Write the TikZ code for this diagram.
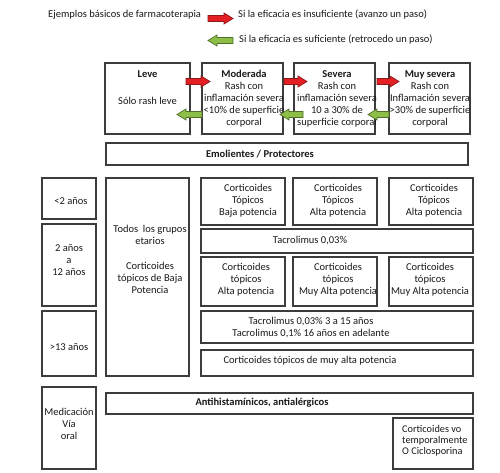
\documentclass[tikz,border=0pt]{standalone}
\usepackage{fontspec}
\setmainfont{Carlito}
\definecolor{ared}{RGB}{228,32,36}
\definecolor{aredd}{RGB}{140,25,25}
\definecolor{agreen}{RGB}{140,190,72}
\definecolor{agreend}{RGB}{80,110,40}
\definecolor{boxline}{RGB}{60,60,60}
\definecolor{txtcol}{RGB}{25,25,25}
\newcommand\blkarrowright[3]{%
  \filldraw[redarr] (#1,#3-3) -- (#2-9,#3-3) -- (#2-9,#3-5.5) -- (#2,#3) -- (#2-9,#3+5.5) -- (#2-9,#3+3) -- (#1,#3+3) -- cycle;}
\newcommand\blkarrowleft[3]{%
  \filldraw[greenarr] (#1,#3) -- (#1+9,#3-5.5) -- (#1+9,#3-3) -- (#2,#3-3) -- (#2,#3+3) -- (#1+9,#3+3) -- (#1+9,#3+5.5) -- cycle;}
\tikzset{
  redarr/.style={fill=ared, draw=aredd, line width=0.7pt, line join=miter},
  greenarr/.style={fill=agreen, draw=agreend, line width=0.7pt, line join=miter},
  box/.style={draw=boxline, line width=1.1pt, fill=white, inner sep=0pt},
  txt/.style={font=\fontsize{10.5}{12}\selectfont, text=txtcol, align=center, inner sep=0pt},
  smalltxt/.style={font=\fontsize{10.3}{11}\selectfont, text=txtcol, align=left, inner sep=0pt},
}
\begin{document}
\begin{tikzpicture}[x=1pt,y=-1pt]
\useasboundingbox[fill=white] (0,0) rectangle (500,472);
% legend
\node[txt, anchor=west] (legtitle) at (48,15) {Ejemplos básicos de farmacoterapia};
\blkarrowright{208}{233}{18.5}
\node[txt, anchor=west] (legred) at (238,15) {Si la eficacia es insuficiente (avanzo un paso)};
\blkarrowleft{208}{233}{40.5}
\node[txt, anchor=west] (leggreen) at (239,40) {Si la eficacia es suficiente (retrocedo un paso)};
% severity row
\node[box, minimum width=85, minimum height=71] (leve) at (147.5,98.5) {};
\node[box, minimum width=81, minimum height=71] (mod) at (242.5,98.5) {};
\node[box, minimum width=81, minimum height=71] (sev) at (334.5,98.5) {};
\node[box, minimum width=81, minimum height=71] (muy) at (429.5,98.5) {};
\node[txt] (levet) at (147.5,74) {\textbf{Leve}};
\node[txt] (levet2) at (147.5,101) {Sólo rash leve};
\node[txt] (modt) at (244,99) {\textbf{Moderada}\\Rash con\\inflamación severa\\<10\% de superficie\\corporal};
\node[txt] (sevt) at (337,99) {\textbf{Severa}\\Rash con\\inflamación severa\\10 a 30\% de\\superficie corporal};
\node[txt] (muyt) at (430,99) {\textbf{Muy severa}\\Rash con\\Inflamación severa\\>30\% de superficie\\corporal};
\blkarrowright{186}{210}{81.5}
\blkarrowright{284}{307}{81.5}
\blkarrowright{377}{399}{81.5}
\blkarrowleft{177}{202}{114.5}
\blkarrowleft{280}{303}{114.5}
\blkarrowleft{368}{389}{114.5}
% emolientes
\node[box, minimum width=362, minimum height=22] (emo) at (287,154) {};
\node[txt] (emot) at (260,154) {\textbf{Emolientes / Protectores}};
% age column
\node[box, minimum width=54, minimum height=41] (a2) at (69,198.5) {};
\node[txt] (a2t) at (71,201) {<2 años};
\node[box, minimum width=54, minimum height=82] (a12) at (69,265) {};
\node[txt] (a12t) at (69,260) {2 años\\a\\12 años};
\node[box, minimum width=54, minimum height=65] (a13) at (69,343.5) {};
\node[txt] (a13t) at (69,347) {>13 años};
% todos
\node[box, minimum width=83, minimum height=198] (todos) at (147.5,277) {};
\node[txt] (todost) at (150,259) {Todos\ \ los grupos\\etarios\\[13pt]Corticoides\\tópicos de Baja\\Potencia};
% first row corticoides
\node[box, minimum width=84, minimum height=47] (c11) at (243,201.5) {};
\node[txt] (c11t) at (248,201) {Corticoides\\Tópicos\\Baja potencia};
\node[box, minimum width=84, minimum height=47] (c12) at (335,201.5) {};
\node[txt] (c12t) at (338,201) {Corticoides\\Tópicos\\Alta potencia};
\node[box, minimum width=84, minimum height=47] (c13) at (431,201.5) {};
\node[txt] (c13t) at (434,201) {Corticoides\\Tópicos\\Alta potencia};
\node[box, minimum width=272, minimum height=24] (tac1) at (337,241) {};
\node[txt] (tac1t) at (310,241) {Tacrolimus 0,03\%};
% second row corticoides
\node[box, minimum width=84, minimum height=49] (c21) at (243,281.5) {};
\node[txt] (c21t) at (246,280) {Corticoides\\tópicos\\Alta potencia};
\node[box, minimum width=84, minimum height=49] (c22) at (335,281.5) {};
\node[txt] (c22t) at (338,280) {Corticoides\\tópicos\\Muy Alta potencia};
\node[box, minimum width=84, minimum height=49] (c23) at (431,281.5) {};
\node[txt] (c23t) at (430,280) {Corticoides\\tópicos\\Muy Alta potencia};
\node[box, minimum width=272, minimum height=32] (tac2) at (337,327) {};
\node[txt] (tac2t) at (311,328) {Tacrolimus 0,03\% 3 a 15 años\\Tacrolimus 0,1\% 16 años en adelante};
\node[box, minimum width=272, minimum height=26] (cma) at (337,363) {};
\node[txt] (cmat) at (310,361) {Corticoides tópicos de muy alta potencia};
% oral
\node[box, minimum width=54, minimum height=82] (med) at (69,428) {};
\node[txt] (medt) at (69,424) {Medicación\\Vía\\oral};
\node[box, minimum width=367, minimum height=21] (anti) at (289.5,403.5) {};
\node[txt] (antit) at (262,403) {\textbf{Antihistamínicos, antialérgicos}};
\node[box, minimum width=80, minimum height=51] (cvo) at (433,443.5) {};
\node[smalltxt, anchor=west] (cvot) at (402,441) {Corticoides vo\\temporalmente\\O Ciclosporina};
\end{tikzpicture}
\end{document}
